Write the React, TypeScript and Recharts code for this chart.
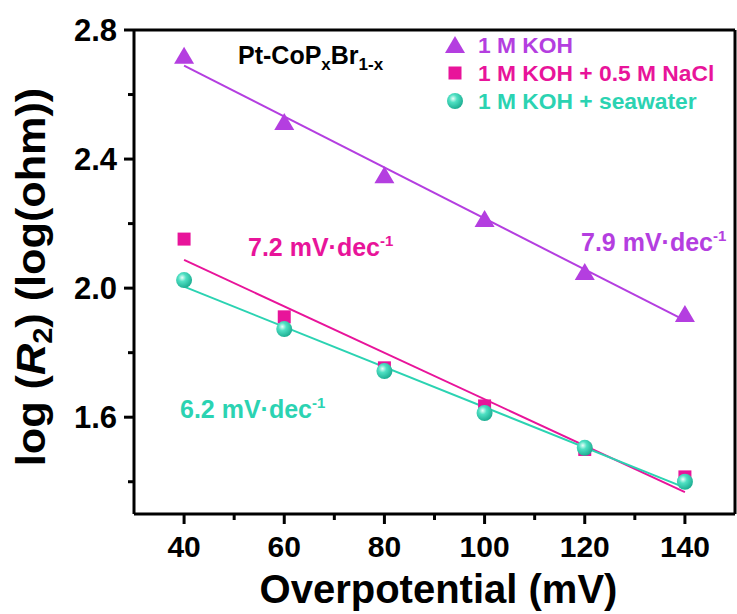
import React from 'react'
import { ComposedChart, Line, Scatter, XAxis, YAxis, ReferenceLine } from 'recharts'

const overpotential = [40, 60, 80, 100, 120, 140]
const kohValues = [2.72, 2.515, 2.35, 2.214, 2.05, 1.92]
const naclValues = [2.152, 1.911, 1.753, 1.635, 1.5, 1.415]
const seawaterValues = [2.025, 1.873, 1.743, 1.613, 1.505, 1.4]

const xTicks = [40, 50, 60, 70, 80, 90, 100, 110, 120, 130, 140]
const xMajor = [40, 60, 80, 100, 120, 140]
const yTicks = [1.4, 1.6, 1.8, 2.0, 2.2, 2.4, 2.6, 2.8]
const yMajor = [1.6, 2.0, 2.4, 2.8]

const PURPLE = '#b43ee0'
const PINK = '#e8149a'
const TEAL = '#2bd3b2'
const FONT = '"Liberation Sans", Arial, sans-serif'

const toPoints = (ys: number[]) => overpotential.map((x, i) => ({ x, y: ys[i] }))

// least squares line through the measured points, drawn from first to last x
function fitLine(ys: number[]) {
  const n = overpotential.length
  const mx = overpotential.reduce((a, b) => a + b, 0) / n
  const my = ys.reduce((a, b) => a + b, 0) / n
  let sxy = 0
  let sxx = 0
  overpotential.forEach((x, i) => {
    sxy += (x - mx) * (ys[i] - my)
    sxx += (x - mx) * (x - mx)
  })
  const k = sxy / sxx
  const x0 = overpotential[0]
  const x1 = overpotential[n - 1]
  return [
    { x: x0, y: my + k * (x0 - mx) },
    { x: x1, y: my + k * (x1 - mx) },
  ]
}

const Triangle = ({ cx, cy }: any) => (
  <polygon points={`${cx},${cy - 9} ${cx + 10},${cy + 8} ${cx - 10},${cy + 8}`} fill={PURPLE} />
)
const Square = ({ cx, cy }: any) => <rect x={cx - 6.5} y={cy - 6.5} width={13} height={13} fill={PINK} />
const Sphere = ({ cx, cy }: any) => <circle cx={cx} cy={cy} r={8} fill="url(#sphereGrad)" />

const XTick = ({ x, y, payload }: any) => {
  const major = xMajor.includes(payload.value)
  return (
    <g>
      <line x1={x} x2={x} y1={y} y2={y + (major ? 10 : 6)} stroke="#000" strokeWidth={3} />
      {major && (
        <text x={x} y={y + 43} textAnchor="middle" fontFamily={FONT} fontWeight="bold" fontSize={30} fill="#000">
          {payload.value}
        </text>
      )}
    </g>
  )
}

const YTick = ({ x, y, payload }: any) => {
  const major = yMajor.some((v) => Math.abs(v - payload.value) < 1e-6)
  return (
    <g>
      <line x1={x} x2={x - (major ? 10 : 6)} y1={y} y2={y} stroke="#000" strokeWidth={3} />
      {major && (
        <text x={x - 17} y={y + 11} textAnchor="end" fontFamily={FONT} fontWeight="bold" fontSize={31} fill="#000">
          {payload.value.toFixed(1)}
        </text>
      )}
    </g>
  )
}

const XTitle = ({ viewBox }: any) => (
  <text
    x={viewBox.x + viewBox.width / 2 + 4}
    y={viewBox.y + 89}
    textAnchor="middle"
    fontFamily={FONT}
    fontWeight="bold"
    fontSize={40}
    fill="#000"
  >
    Overpotential (mV)
  </text>
)

const YTitle = ({ viewBox }: any) => {
  const cx = 31
  const cy = viewBox.y + viewBox.height / 2 + 5
  return (
    <g transform={`translate(${cx} ${cy}) rotate(-90) scale(1.08 1)`}>
      <text x={0} y={14} textAnchor="middle" fontFamily={FONT} fontWeight="bold" fontSize={40} fill="#000">
        log (<tspan fontStyle="italic">R</tspan>
        <tspan fontSize={27} dy={7}>2</tspan>
        <tspan dy={-7}>) (log(ohm))</tspan>
      </text>
    </g>
  )
}

function Overlay() {
  const legendRows = [
    { label: '1 M KOH', color: PURPLE, mark: <Triangle cx={455} cy={45} /> },
    { label: '1 M KOH + 0.5 M NaCl', color: PINK, mark: <Square cx={455} cy={73} /> },
    { label: '1 M KOH + seawater', color: TEAL, mark: <Sphere cx={455} cy={101} /> },
  ]
  return (
    <svg width={737} height={614} style={{ position: 'absolute', left: 0, top: 0, pointerEvents: 'none' }}>
      {legendRows.map((r, i) => (
        <g key={r.label}>
          {r.mark}
          <text x={478} y={53 + i * 28} fontFamily={FONT} fontWeight="bold" fontSize={22.8} fill={r.color}>
            {r.label}
          </text>
        </g>
      ))}
      <text x={238} y={64} fontFamily={FONT} fontWeight="bold" fontSize={25} fill="#000">
        Pt-CoP<tspan fontSize={17} dy={6}>x</tspan>
        <tspan dy={-6}>Br</tspan>
        <tspan fontSize={17} dy={6}>1-x</tspan>
      </text>
      <text x={581} y={251} fontFamily={FONT} fontWeight="bold" fontSize={25} fill={PURPLE}>
        7.9 mV·dec<tspan fontSize={15} dy={-10}>-1</tspan>
      </text>
      <text x={248} y={256} fontFamily={FONT} fontWeight="bold" fontSize={25} fill={PINK}>
        7.2 mV·dec<tspan fontSize={15} dy={-10}>-1</tspan>
      </text>
      <text x={180} y={418} fontFamily={FONT} fontWeight="bold" fontSize={25} fill={TEAL}>
        6.2 mV·dec<tspan fontSize={15} dy={-10}>-1</tspan>
      </text>
    </svg>
  )
}

export default function App() {
  return (
    <div style={{ position: 'absolute', left: 0, top: 0, width: 737, height: 614, background: '#fff' }}>
      <ComposedChart width={737} height={614} margin={{ top: 30, right: 2, bottom: 0, left: 0 }}>
        <defs>
          <radialGradient id="sphereGrad" cx="0.38" cy="0.35" r="0.7">
            <stop offset="0" stopColor="#eafff9" />
            <stop offset="0.35" stopColor="#4fe0c3" />
            <stop offset="1" stopColor="#18a98d" />
          </radialGradient>
        </defs>
        <XAxis
          type="number"
          dataKey="x"
          domain={[30, 150]}
          ticks={xTicks}
          interval={0}
          height={100}
          tickSize={0}
          tickMargin={0}
          tick={<XTick />}
          axisLine={{ stroke: '#000', strokeWidth: 3 }}
          label={<XTitle />}
        />
        <YAxis
          type="number"
          dataKey="y"
          domain={[1.3, 2.8]}
          ticks={yTicks}
          interval={0}
          width={134}
          tickSize={0}
          tickMargin={0}
          tick={<YTick />}
          axisLine={{ stroke: '#000', strokeWidth: 3 }}
          label={<YTitle />}
        />
        <ReferenceLine y={2.8} stroke="#000" strokeWidth={3} />
        <ReferenceLine x={150} stroke="#000" strokeWidth={3} />
        <Line data={fitLine(kohValues)} dataKey="y" stroke={PURPLE} strokeWidth={2} dot={false} isAnimationActive={false} />
        <Line data={fitLine(naclValues)} dataKey="y" stroke={PINK} strokeWidth={2} dot={false} isAnimationActive={false} />
        <Line data={fitLine(seawaterValues)} dataKey="y" stroke={TEAL} strokeWidth={2} dot={false} isAnimationActive={false} />
        <Scatter data={toPoints(kohValues)} dataKey="y" shape={Triangle} isAnimationActive={false} />
        <Scatter data={toPoints(naclValues)} dataKey="y" shape={Square} isAnimationActive={false} />
        <Scatter data={toPoints(seawaterValues)} dataKey="y" shape={Sphere} isAnimationActive={false} />
      </ComposedChart>
      <Overlay />
    </div>
  )
}
